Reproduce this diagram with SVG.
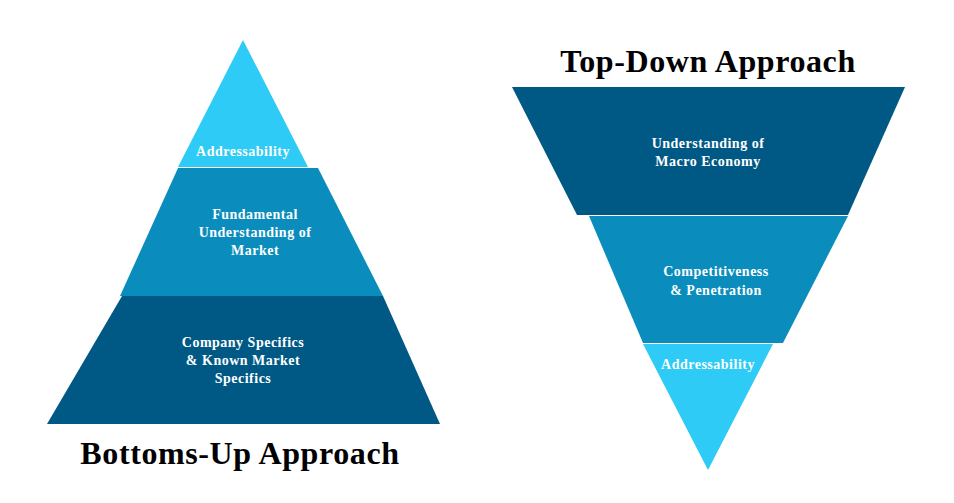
<svg xmlns="http://www.w3.org/2000/svg" width="954" height="503" viewBox="0 0 954 503">
<style>
.d{fill:#005985}.m{fill:#0a8dbd}.l{fill:#2dcbf6}
.t{font-family:"Liberation Serif","DejaVu Serif",serif;font-weight:bold;fill:#fff;font-size:14px;letter-spacing:0.5px;text-anchor:middle}
.h{font-family:"Liberation Serif","DejaVu Serif",serif;font-weight:bold;fill:#000;font-size:32px;letter-spacing:0.6px;text-anchor:middle}
</style>
<rect width="954" height="503" fill="#fff"/>
<g id="bu-top"><polygon class="l" points="243,40 308,167 178,167"/><text class="t" x="243" y="156">Addressability</text></g>
<g id="bu-mid"><polygon class="m" points="178,168 318,168 383,296 120,296"/><text class="t" x="255" y="219">Fundamental</text><text class="t" x="255" y="237">Understanding of</text><text class="t" x="255" y="255">Market</text></g>
<g id="bu-bot"><polygon class="d" points="122,296 383,296 440,424 47,424"/><text class="t" x="243" y="347">Company Specifics</text><text class="t" x="243" y="365">&amp; Known Market</text><text class="t" x="243" y="383">Specifics</text></g>
<text class="h" x="240" y="464">Bottoms-Up Approach</text>
<text class="h" x="708" y="72">Top-Down Approach</text>
<g id="td-top"><polygon class="d" points="512,87 905,87 848,215 577,215"/><text class="t" x="708" y="148">Understanding of</text><text class="t" x="708" y="166">Macro Economy</text></g>
<g id="td-mid"><polygon class="m" points="589,216 848,216 783,343 643,343"/><text class="t" x="716" y="276">Competitiveness</text><text class="t" x="716" y="295">&amp; Penetration</text></g>
<g id="td-bot"><polygon class="l" points="643,344 773,344 708,470"/><text class="t" x="708" y="369">Addressability</text></g>
<g id="connectors"/>
</svg>
